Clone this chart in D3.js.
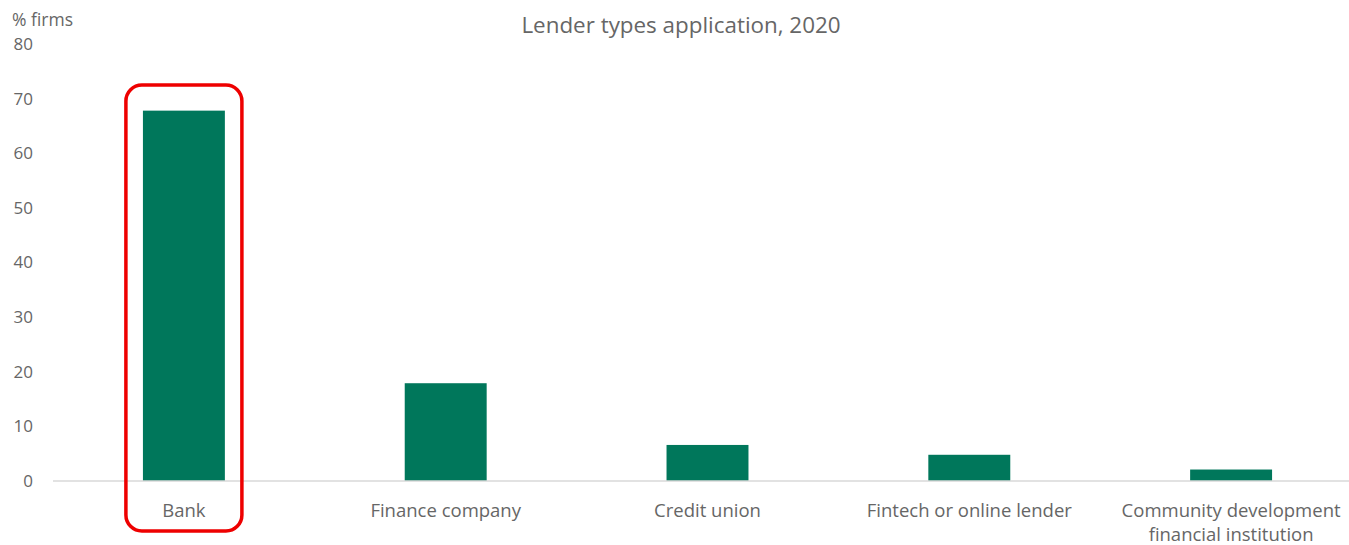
<!DOCTYPE html>
<html>
<head>
<meta charset="utf-8">
<script src="https://cdn.jsdelivr.net/npm/d3@7"></script>
<style>
  html, body { margin: 0; padding: 0; background: #fff; }
  svg { display: block; }
  text { font-family: "Open Sans", "Noto Sans", sans-serif; fill: #666666; }
</style>
</head>
<body>
<svg id="chart" width="1349" height="545"></svg>
<script>
// Share of firms applying to each lender type, 2020
const categories = ["Bank", "Finance company", "Credit union", "Fintech or online lender", "Community development\nfinancial institution"];
const values = [67.8, 17.9, 6.6, 4.8, 2.1];
const yTicks = [0, 10, 20, 30, 40, 50, 60, 70, 80];
const highlighted = ["Bank"];

const svg = d3.select("#chart");
const W = 1349, H = 545;
const plot = { left: 53, right: 1362, top: 44, bottom: 481 };

const x = d3.scaleBand()
  .domain(categories)
  .range([plot.left, plot.right])
  .paddingInner(0.687)
  .paddingOuter(0.687 / 2);

const y = d3.scaleLinear()
  .domain([0, 80])
  .range([plot.bottom, plot.top]);

// Title
svg.append("text")
  .attr("x", 681).attr("y", 33)
  .attr("text-anchor", "middle")
  .attr("font-size", 22.4)
  .text("Lender types application, 2020");

// Y axis unit label
svg.append("text")
  .attr("x", 12).attr("y", 26)
  .attr("font-size", 17.5)
  .text("% firms");

// Y axis tick labels (no axis line)
const yAxis = d3.axisLeft(y).tickValues(yTicks).tickSize(0).tickPadding(0);
const yg = svg.append("g").attr("transform", `translate(33,0)`).call(yAxis);
yg.select(".domain").remove();
yg.selectAll("text")
  .attr("font-size", 17)
  .attr("font-family", "'Open Sans', 'Noto Sans', sans-serif")
  .attr("fill", "#666666");

// Bars
svg.append("g").selectAll("rect")
  .data(categories)
  .join("rect")
  .attr("x", d => x(d))
  .attr("width", x.bandwidth())
  .attr("y", (d, i) => y(values[i]))
  .attr("height", (d, i) => y(0) - y(values[i]))
  .attr("fill", "#00775b");

// Baseline
svg.append("line")
  .attr("x1", plot.left).attr("x2", W)
  .attr("y1", y(0)).attr("y2", y(0))
  .attr("stroke", "#d9d9d9").attr("stroke-width", 1.5);

// Category labels
const xLab = svg.append("g");
categories.forEach(c => {
  const lines = c.split("\n");
  const t = xLab.append("text")
    .attr("x", x(c) + x.bandwidth() / 2)
    .attr("y", 517)
    .attr("text-anchor", "middle")
    .attr("font-size", 18.5);
  lines.forEach((ln, i) => {
    t.append("tspan")
      .attr("x", x(c) + x.bandwidth() / 2)
      .attr("dy", i === 0 ? 0 : 24)
      .text(ln);
  });
});

// Highlight frame around the emphasised category
highlighted.forEach(c => {
  const cx = x(c) + x.bandwidth() / 2;
  svg.append("rect")
    .attr("x", cx - 58).attr("y", 85)
    .attr("width", 116).attr("height", 446)
    .attr("rx", 16).attr("ry", 16)
    .attr("fill", "none")
    .attr("stroke", "#ee0000")
    .attr("stroke-width", 3.5);
});
</script>
</body>
</html>
